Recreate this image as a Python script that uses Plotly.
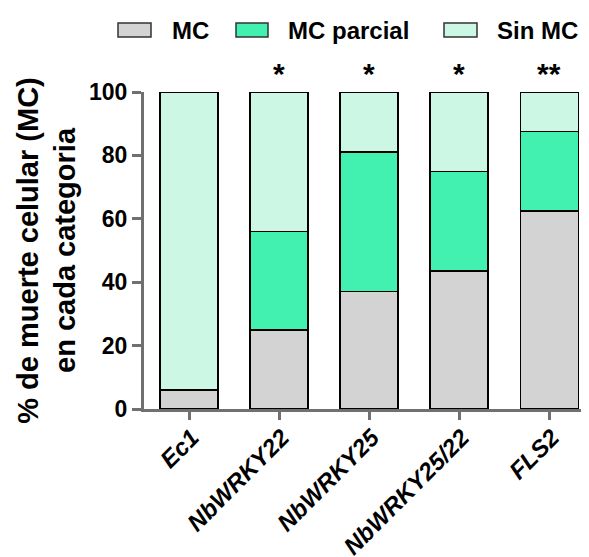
import plotly.graph_objects as go

categories = ["Ec1", "NbWRKY22", "NbWRKY25", "NbWRKY25/22", "FLS2"]
mc = [6, 25, 37, 43.5, 62.5]
mc_parcial = [0, 31, 44, 31.5, 25]
sin_mc = [94, 44, 19, 25, 12.5]
significance = ["", "*", "*", "*", "**"]
y_ticks = [0, 20, 40, 60, 80, 100]
series_names = ["MC", "MC parcial", "Sin MC"]
series_colors = ["#D3D3D3", "#42F0B0", "#CCF7E5"]

FONT = "Arial, Liberation Sans, sans-serif"
AXIS_COL = "#707070"
x = list(range(len(categories)))

fig = go.Figure()
for name, vals, col in zip(series_names, [mc, mc_parcial, sin_mc], series_colors):
    fig.add_trace(go.Bar(x=x, y=vals, name=name, showlegend=False,
                         marker=dict(color=col, line=dict(color="black", width=1.5))))

for xi, s in zip(x, significance):
    if s:
        fig.add_annotation(x=xi, y=100, text="<b>" + s + "</b>", showarrow=False,
                           yanchor="bottom", yshift=0, font=dict(size=30, color="black", family=FONT))

# custom legend (paper coordinates; plot area spans 144..588 px wide, 92..409 px tall on screen)
W, H = 444.0, 317.0
def px(xp):
    return (xp - 144) / W
def py(yp):
    return (409 - yp) / H
legend_boxes = [(118, 151), (236, 268), (444, 477)]
legend_text_x = [170, 286, 495]
for (x0, x1), tx, name, col in zip(legend_boxes, legend_text_x, series_names, series_colors):
    fig.add_shape(type="rect", xref="paper", yref="paper", x0=px(x0), x1=px(x1),
                  y0=py(37), y1=py(23), fillcolor=col, line=dict(color="#333333", width=1.5))
    fig.add_annotation(xref="paper", yref="paper", x=px(tx), y=py(30), text="<b>" + name + "</b>",
                       showarrow=False, xanchor="left", yanchor="middle",
                       font=dict(size=24, color="black", family=FONT))

# page body has an 8px margin, so the figure is offset by 8px on screen
fig.update_layout(
    width=589, height=557,
    barmode="stack", bargap=0.356,
    plot_bgcolor="white", paper_bgcolor="white",
    margin=dict(l=136, r=9, t=84, b=156, autoexpand=False),
    font=dict(family=FONT, color="black", size=18),
    showlegend=False,
)
fig.update_xaxes(
    tickmode="array", tickvals=x,
    ticktext=["<b><i>" + c + "</i></b>" for c in categories],
    tickangle=-45, range=[-0.5, 4.43],
    showline=True, linecolor=AXIS_COL, linewidth=3,
    ticks="outside", ticklen=8, tickwidth=3, tickcolor=AXIS_COL,
    tickfont=dict(size=24, family=FONT, color="black"), showgrid=False, zeroline=False,
    ticklabelstandoff=-6, ticklabelshift=3,
    automargin=False,
)
fig.update_yaxes(
    range=[0, 100], tickvals=y_ticks, ticktext=["<b>%d</b>" % t for t in y_ticks],
    showline=True, linecolor=AXIS_COL, linewidth=3,
    ticks="outside", ticklen=9, tickwidth=3, tickcolor=AXIS_COL,
    tickfont=dict(size=23, family=FONT, color="black"), showgrid=False, zeroline=False,
    title=dict(text="<b>% de muerte celular (MC)<br>en cada categoria</b>", font=dict(size=29, family=FONT), standoff=5),
    automargin=False,
)
fig.write_html("out.html")
